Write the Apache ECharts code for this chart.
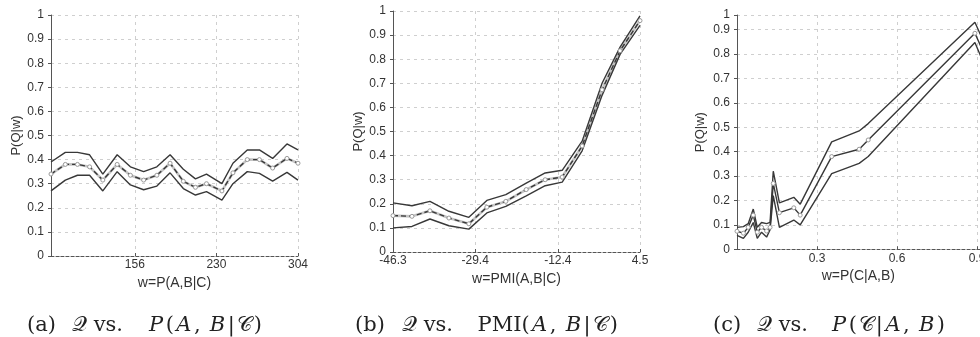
<!DOCTYPE html>
<html>
<head>
<meta charset="utf-8">
<script src="https://cdn.jsdelivr.net/npm/echarts@6/dist/echarts.min.js"></script>
<style>html,body{margin:0;padding:0;background:#fff;}#c{width:980px;height:337px;}</style>
</head>
<body>
<div id="c"></div>
<script>
// ---- Panel (a): Q vs P(A,B|C)
const aX     = [80, 93, 104, 115, 127, 140, 152, 164, 176, 188, 200, 211, 221, 235, 245, 258, 269, 281, 294, 304];
const aUpper = [0.39, 0.43, 0.43, 0.42, 0.34, 0.42, 0.37, 0.35, 0.37, 0.42, 0.36, 0.32, 0.34, 0.30, 0.385, 0.44, 0.44, 0.405, 0.465, 0.44];
const aMid   = [0.34, 0.38, 0.38, 0.37, 0.315, 0.38, 0.335, 0.315, 0.335, 0.385, 0.31, 0.285, 0.30, 0.27, 0.345, 0.40, 0.40, 0.365, 0.405, 0.385];
const aLower = [0.27, 0.315, 0.335, 0.335, 0.27, 0.35, 0.295, 0.275, 0.29, 0.345, 0.28, 0.253, 0.267, 0.232, 0.30, 0.35, 0.343, 0.311, 0.347, 0.315];
const aTicks = [156, 230, 304];

// ---- Panel (b): Q vs PMI(A,B|C)
const bX     = [-46.3, -42.4, -38.7, -34.8, -30.7, -27.0, -23.1, -18.9, -15.0, -11.5, -7.4, -3.3, 0.4, 4.5];
const bUpper = [0.204, 0.192, 0.210, 0.169, 0.144, 0.214, 0.238, 0.286, 0.328, 0.339, 0.46, 0.70, 0.85, 0.98];
const bMid   = [0.151, 0.148, 0.171, 0.141, 0.117, 0.186, 0.210, 0.259, 0.300, 0.311, 0.44, 0.673, 0.835, 0.96];
const bLower = [0.100, 0.106, 0.137, 0.109, 0.095, 0.162, 0.189, 0.233, 0.275, 0.290, 0.42, 0.65, 0.82, 0.94];
const bTicks = [-46.3, -29.4, -12.4, 4.5];

// ---- Panel (c): Q vs P(C|A,B)
const cX     = [0.0, 0.024, 0.042, 0.061, 0.076, 0.092, 0.111, 0.124, 0.136, 0.159, 0.213, 0.237, 0.355, 0.458, 0.492, 0.892, 0.95];
const cUpper = [0.09, 0.093, 0.105, 0.165, 0.09, 0.11, 0.105, 0.11, 0.32, 0.19, 0.213, 0.185, 0.44, 0.485, 0.515, 0.93, 0.79];
const cMid   = [0.074, 0.066, 0.09, 0.14, 0.07, 0.09, 0.075, 0.09, 0.27, 0.15, 0.17, 0.14, 0.38, 0.41, 0.448, 0.885, 0.745];
const cLower = [0.057, 0.045, 0.07, 0.11, 0.045, 0.07, 0.05, 0.08, 0.22, 0.09, 0.12, 0.10, 0.31, 0.352, 0.38, 0.847, 0.70];
const cTicks = [0.3, 0.6, 0.9];

const yTicks  = [0, 0.1, 0.2, 0.3, 0.4, 0.5, 0.6, 0.7, 0.8, 0.9, 1];
const yTicksC = [0, 0.1, 0.2, 0.3, 0.4, 0.5, 0.6, 0.7, 0.8, 0.9, 0.96];

const xNames = ['w=P(A,B|C)', 'w=PMI(A,B|C)', 'w=P(C|A,B)'];
const yName = 'P(Q|w)';

const LINE = '#383838';
const labelStyle = {color: '#333', fontFamily: 'Liberation Sans', fontSize: 12};
const nameStyle = {color: '#333', fontFamily: 'Liberation Sans', fontSize: 14};
const yNameStyle = {color: '#333', fontFamily: 'Liberation Sans', fontSize: 13};
const gridLine = {show: true, lineStyle: {color: '#cfcfcf', type: [3, 4], width: 1}};

function zip(xs, ys) { return xs.map((x, i) => [x, ys[i]]); }

function xAxis(idx, min, max, ticks, gap) {
  return {
    type: 'value', gridIndex: idx, min: min, max: max,
    name: xNames[idx], nameLocation: 'middle', nameGap: gap, nameTextStyle: nameStyle,
    axisLine: {show: true, onZero: false, lineStyle: {color: '#555', type: [3, 2], width: 1}},
    axisTick: {show: true, length: 3, inside: true, customValues: ticks, lineStyle: {color: '#555'}},
    axisLabel: Object.assign({margin: 3, customValues: ticks}, labelStyle),
    splitLine: gridLine
  };
}
function yAxis(idx, max, ticks, gap, fmt) {
  return {
    type: 'value', gridIndex: idx, min: 0, max: max,
    name: yName, nameLocation: 'middle', nameGap: gap, nameTextStyle: yNameStyle,
    axisLine: {show: true, onZero: false, lineStyle: {color: '#555', width: 1}},
    axisTick: {show: true, length: 3, customValues: ticks, lineStyle: {color: '#555'}},
    axisLabel: Object.assign({margin: 7, customValues: ticks, formatter: fmt}, labelStyle),
    splitLine: gridLine
  };
}
function bound(idx, xs, ys) {
  return {type: 'line', xAxisIndex: idx, yAxisIndex: idx, data: zip(xs, ys), showSymbol: false,
          lineStyle: {color: LINE, width: 1.4}, silent: true, animation: false, z: 3};
}
function midBg(idx, xs, ys) {
  return {type: 'line', xAxisIndex: idx, yAxisIndex: idx, data: zip(xs, ys), showSymbol: false,
          lineStyle: {color: '#c4c4c4', width: 2.6}, silent: true, animation: false, z: 2};
}
function mid(idx, xs, ys, dashed) {
  return {type: 'line', xAxisIndex: idx, yAxisIndex: idx, data: zip(xs, ys),
          symbol: 'circle', symbolSize: 4, showAllSymbol: true,
          itemStyle: {color: '#fff', borderColor: '#9a9a9a', borderWidth: 1},
          lineStyle: {color: LINE, width: 1.4, type: dashed ? [5, 3] : 'solid'},
          silent: true, animation: false, z: 4};
}

const capBase = {fontFamily: 'DejaVu Serif', fontSize: 21, fontWeight: 'normal', color: '#222'};
const rich = {
  t: capBase,
  i: Object.assign({}, capBase, {fontStyle: 'italic'}),
  s: Object.assign({}, capBase, {fontFamily: 'DejaVu Serif, DejaVu Sans, Noto Sans'}),
  ft: Object.assign({}, capBase, {padding: [0, 0.5, 0, 0.5]}),
  fi: Object.assign({}, capBase, {fontStyle: 'italic', padding: [0, 2, 0, 2]}),
  fs: Object.assign({}, capBase, {fontFamily: 'DejaVu Serif, DejaVu Sans, Noto Sans', padding: [0, 1.5, 0, 1.5]})
};
function caption(left, txt) {
  return {text: txt, left: left, top: 315, padding: 0,
          textStyle: {rich: rich, fontWeight: 'normal', fontFamily: 'DejaVu Serif', fontSize: 21}};
}

const option = {
  backgroundColor: '#fff',
  animation: false,
  title: [
    caption(27, '{t|(a)}'), caption(72, '{s|𝒬} {t|vs.}'),
    caption(147, '{fi|P}{ft|(}{fi|A}{ft|, }{fi|B}{ft||}{fs|𝒞}{ft|)}'),
    caption(355, '{t|(b)}'), caption(402, '{s|𝒬} {t|vs.}'),
    caption(477, '{ft|PMI(}{fi|A}{ft|, }{fi|B}{ft||}{fs|𝒞}{ft|)}'),
    caption(713, '{t|(c)}'), caption(757, '{s|𝒬} {t|vs.}'),
    caption(830, '{fi|P}{ft|(}{fs|𝒞}{ft||}{fi|A}{ft|, }{fi|B}{ft|)}')
  ],
  grid: [
    {left: 51, top: 15, width: 247, height: 241, outerBoundsMode: 'none', containLabel: false},
    {left: 393, top: 11, width: 247, height: 241, outerBoundsMode: 'none', containLabel: false},
    {left: 737, top: 15, width: 242.7, height: 234.3, outerBoundsMode: 'none', containLabel: false}
  ],
  xAxis: [
    xAxis(0, 80, 304, aTicks, 17),
    xAxis(1, -46.3, 4.5, bTicks, 18),
    xAxis(2, 0, 0.91, cTicks, 17)
  ],
  yAxis: [
    yAxis(0, 1, yTicks, 28),
    yAxis(1, 1, yTicks, 24),
    yAxis(2, 0.96, yTicksC, 30, v => (v > 0.95 ? '1' : String(v)))
  ],
  series: [
    midBg(0, aX, aMid), bound(0, aX, aUpper), bound(0, aX, aLower), mid(0, aX, aMid, true),
    midBg(1, bX, bMid), bound(1, bX, bUpper), bound(1, bX, bLower), mid(1, bX, bMid, true),
    bound(2, cX, cUpper), bound(2, cX, cLower), mid(2, cX, cMid, false)
  ]
};

const chart = echarts.init(document.getElementById('c'), null, {renderer: 'canvas'});
chart.setOption(option);
</script>
</body>
</html>
